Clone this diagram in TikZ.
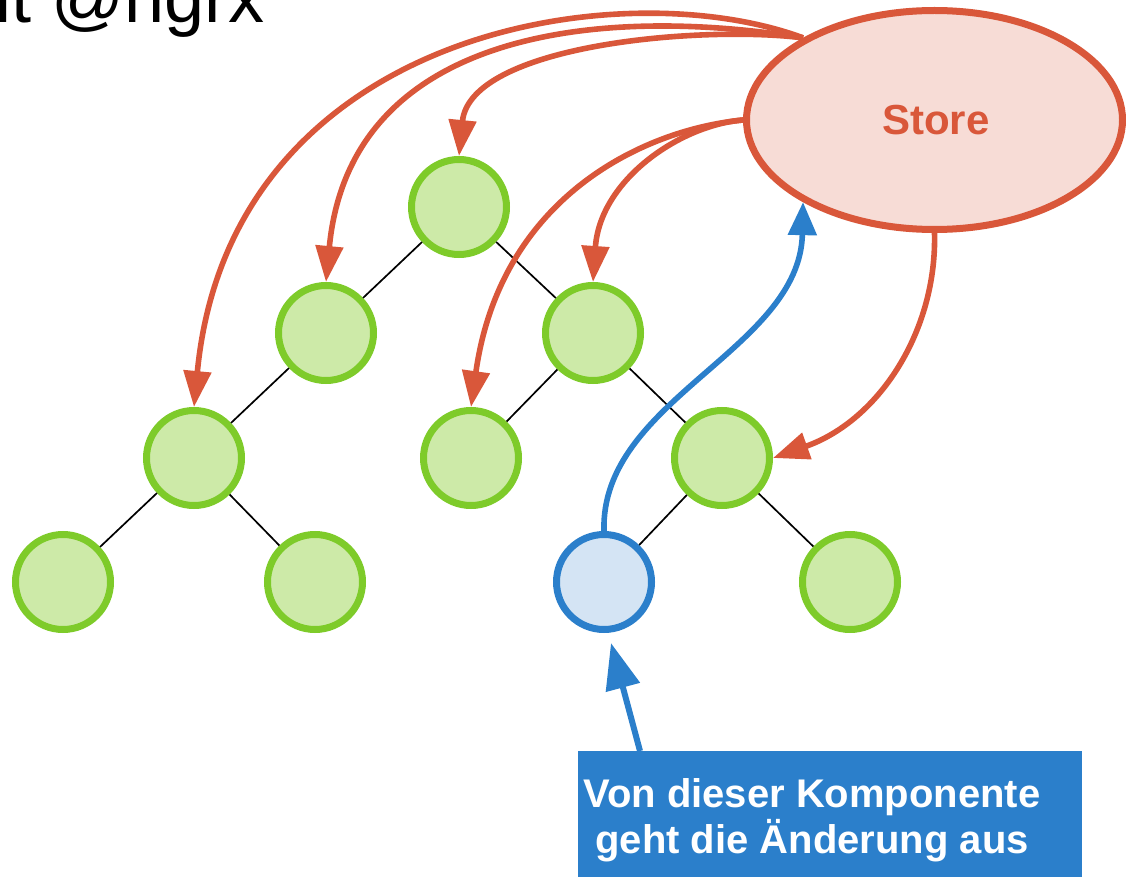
\documentclass[tikz,border=0pt]{standalone}
\usepackage{fontspec}
\setmainfont{Liberation Sans}
\usetikzlibrary{arrows.meta,shapes.geometric}
\definecolor{redc}{RGB}{217,87,58}
\definecolor{storefill}{RGB}{247,220,214}
\definecolor{greenc}{RGB}{126,203,42}
\definecolor{greenfill}{RGB}{205,234,168}
\definecolor{bluec}{RGB}{43,127,203}
\definecolor{bluefill}{RGB}{212,228,244}
\tikzset{
  comp/.style={circle, draw=greenc, fill=greenfill, line width=7pt, minimum size=95pt, inner sep=0pt},
  changed/.style={circle, draw=bluec, fill=bluefill, line width=7pt, minimum size=95pt, inner sep=0pt},
  storenode/.style={ellipse, draw=redc, fill=storefill, line width=7pt, minimum width=376pt, minimum height=219pt, inner sep=0pt, font=\fontsize{42}{50}\selectfont\bfseries, text=redc},
  treeedge/.style={draw=black, line width=1.7pt},
  subscr/.style={draw=redc, line width=5.6pt, -{Triangle[length=36pt,width=27pt]}},
  notify/.style={draw=bluec, line width=5.6pt, -{Triangle[length=33pt,width=28pt]}},
  annbox/.style={rectangle, fill=bluec, inner sep=0pt, minimum width=504pt, minimum height=130pt},
  anntext/.style={text=white, font=\fontsize{40}{46}\selectfont\bfseries, align=center, inner sep=0pt},
  pointer/.style={draw=bluec, line width=6pt, -{Triangle[length=46pt,width=34pt]}},
  title/.style={font=\fontsize{72}{86}\selectfont, inner sep=0pt, anchor=base west}
}
\begin{document}
\begin{tikzpicture}[x=1pt,y=-1pt]
\useasboundingbox (0,0) rectangle (1126,877);
% title (cropped)
\node[title] (ttl) at (-5,23) {it @ngrx};
% store
\node[storenode] (store) at (934.5,120) {\hspace*{3pt}Store};
% tree
\node[comp] (root) at (459,207) {};
\node[comp] (b) at (326,333) {};
\node[comp] (c) at (593,333) {};
\node[comp] (d) at (194,458) {};
\node[comp] (e) at (471,458) {};
\node[comp] (f) at (722,458) {};
\node[comp] (h) at (63,582) {};
\node[comp] (i) at (315,582) {};
\node[changed] (j) at (604,582) {};
\node[comp] (k) at (850,582) {};
\draw[treeedge] (root) -- (b);
\draw[treeedge] (root) -- (c);
\draw[treeedge] (b) -- (d);
\draw[treeedge] (c) -- (e);
\draw[treeedge] (c) -- (f);
\draw[treeedge] (d) -- (h);
\draw[treeedge] (d) -- (i);
\draw[treeedge] (f) -- (j);
\draw[treeedge] (f) -- (k);
% store -> components
\draw[subscr] (store.148) .. controls (700,25) and (470,45) .. (root.north);
\draw[subscr] (store.148) .. controls (600,5) and (350,30) .. (b.north);
\draw[subscr] (store.148) .. controls (620,-30) and (230,30) .. (d.north);
\draw[subscr] (store.west) .. controls (680,125) and (600,180) .. (c.north);
\draw[subscr] (store.west) .. controls (640,130) and (500,200) .. (e.north);
\draw[subscr] (store.south) .. controls (937,330) and (880,420) .. (f.east);
% changed component -> store
\draw[notify] (j.north) .. controls (600,400) and (800,350) .. (store.212);
% annotation
\node[annbox, anchor=north west] (ann) at (578,751) {};
\node[anntext] (anntxt) at (812,820) {Von dieser Komponente\\geht die Änderung aus};
\coordinate (annfrom) at (640,751);
\coordinate (anntip) at (611,643);
\draw[pointer] (annfrom) -- (anntip);
\end{tikzpicture}
\end{document}
